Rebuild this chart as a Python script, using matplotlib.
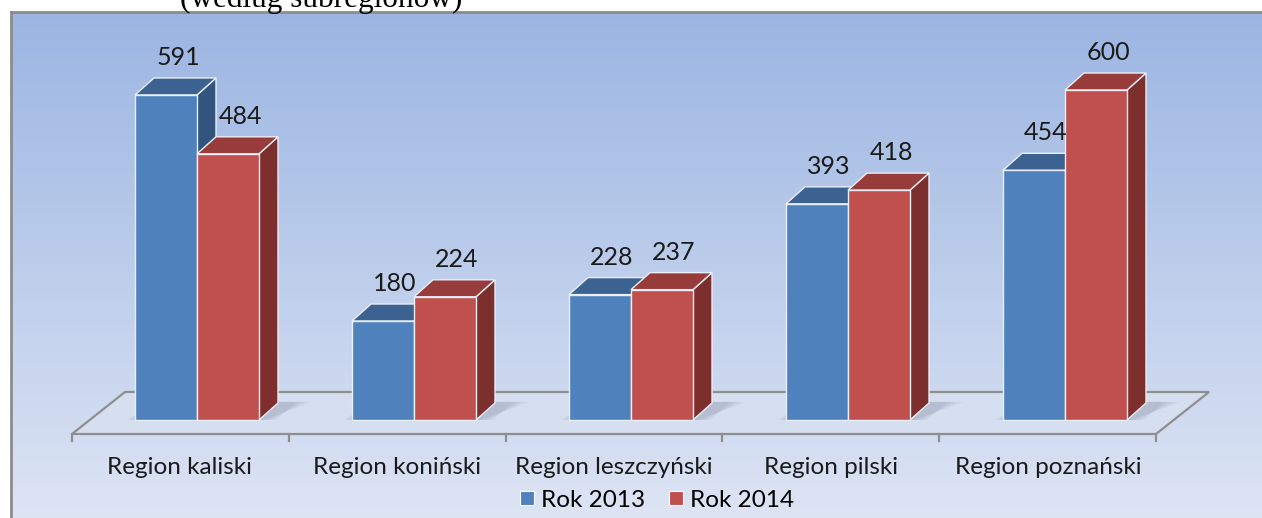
import numpy as np
import matplotlib.pyplot as plt
from matplotlib.patches import Polygon
from matplotlib.lines import Line2D

# data
regions = ["Region kaliski", "Region koniński", "Region leszczyński",
           "Region pilski", "Region poznański"]
rok_2013 = [591, 180, 228, 393, 454]
rok_2014 = [484, 224, 237, 418, 600]
series_names = ["Rok 2013", "Rok 2014"]

# colours: front, top, side
blue = ["#4F81BD", "#3C6291", "#33547D"]
red = ["#C0504D", "#973C3A", "#7D2F2D"]

W, H = 1262, 518
fig = plt.figure(figsize=(W / 100, H / 100), dpi=100)

# background panel (pixel coordinates)
bg = fig.add_axes([0, 0, 1, 1])
bg.set_xlim(0, W)
bg.set_ylim(H, 0)
bg.axis("off")
grad = np.linspace(0, 1, 256).reshape(-1, 1)
top_c = np.array([155, 181, 226]) / 255
bot_c = np.array([222, 229, 244]) / 255
img = top_c + (bot_c - top_c) * grad[:, :, None]
bg.imshow(img, extent=(11, W + 5, H + 5, 12), aspect="auto", zorder=0)
bg.plot([11, W + 5], [12, 12], color="#8C8C8C", lw=2, zorder=1)
bg.plot([11, 11], [12, H + 5], color="#8C8C8C", lw=2, zorder=1)
# title line of the page, cut by the top edge as in the source
bg.text(180, 7, "(według subregionów)", fontsize=22.5, family="Liberation Serif",
        va="baseline", ha="left", color="black")

# data axes: bars drawn with real values
ax = fig.add_axes([0, 0, 1, 1])
ax.patch.set_alpha(0)
ax.axis("off")
x_left_px, x_step_px, base_px, ppu = 197, 217, 420, 0.55
ax.set_xlim(-x_left_px / x_step_px, (W - x_left_px) / x_step_px)
ax.set_ylim(-(H - base_px) / ppu, base_px / ppu)

bw = 62 / x_step_px
dx = 19 / x_step_px
dy = 17 / ppu
edge = "#E9EEF7"

# floor
fl_front = -14 / ppu
fl_back = 28 / ppu
fx0, fx1 = (72 - x_left_px) / x_step_px, (1156 - x_left_px) / x_step_px
fdx = 53 / x_step_px
floor = Polygon([(fx0, fl_front), (fx1, fl_front), (fx1 + fdx, fl_back), (fx0 + fdx, fl_back)],
                closed=True, facecolor="#D6DFF0", edgecolor="#8F8F8F", lw=1.6, zorder=2)
ax.add_patch(floor)
for k in range(len(regions) + 1):
    xt = fx0 + k * (fx1 - fx0) / len(regions)
    ax.plot([xt, xt], [fl_front, fl_front - 7 / ppu], color="#8F8F8F", lw=1.6, zorder=2)

# soft shadows on the floor
for i in range(len(regions)):
    x0 = i - bw
    for s in range(5):
        ax.add_patch(Polygon([(x0 - 0.04 + 0.012 * s, 0), (x0 + 2 * bw + 0.02 + 0.015 * s, 0),
                              (x0 + 2 * bw + dx + 0.16 - 0.02 * s, dy + 2),
                              (x0 + dx, dy + 2)],
                             closed=True, facecolor="#5F6A7C", alpha=0.06, lw=0, zorder=2.5))

xs = np.arange(len(regions))


def draw_bar(xc, h, cols, z):
    x0 = xc - bw / 2
    ax.bar(xc, h, width=bw, color=cols[0], edgecolor=edge, linewidth=1.0, zorder=z + 0.2)
    ax.add_patch(Polygon([(x0, h), (x0 + dx, h + dy), (x0 + bw + dx, h + dy), (x0 + bw, h)],
                         closed=True, facecolor=cols[1], edgecolor=edge, lw=1.0, zorder=z + 0.1))
    ax.add_patch(Polygon([(x0 + bw, 0), (x0 + bw + dx, dy), (x0 + bw + dx, h + dy), (x0 + bw, h)],
                         closed=True, facecolor=cols[2], edgecolor=edge, lw=1.0, zorder=z))


for i in xs:
    draw_bar(i - bw / 2, rok_2013[i], blue, 3)
    draw_bar(i + bw / 2, rok_2014[i], red, 4)
    for xc, v in [(i - bw / 2, rok_2013[i]), (i + bw / 2, rok_2014[i])]:
        ax.text(xc + 12 / x_step_px, v + dy + 9 / ppu, str(v), ha="center", va="bottom",
                fontsize=18, family="Lato", color="#1A1A1A", zorder=6)
    ax.text(i - 17 / x_step_px, -48 / ppu, regions[i], ha="center", va="center",
            fontsize=17.5, family="Lato", color="#1A1A1A", zorder=6)

handles = [Line2D([], [], marker="s", ls="none", markersize=9.5, color=blue[0],
                  markeredgecolor="white", markeredgewidth=0.8),
           Line2D([], [], marker="s", ls="none", markersize=9.5, color=red[0],
                  markeredgecolor="white", markeredgewidth=0.8)]
fig.legend(handles, series_names, loc="center", bbox_to_anchor=(657 / W, 1 - 500 / H),
           ncol=2, frameon=False, handlelength=0.6, handletextpad=0.25, columnspacing=1.0,
           prop={"family": "Lato", "size": 17.5})

fig.savefig("out.png", dpi=100)
